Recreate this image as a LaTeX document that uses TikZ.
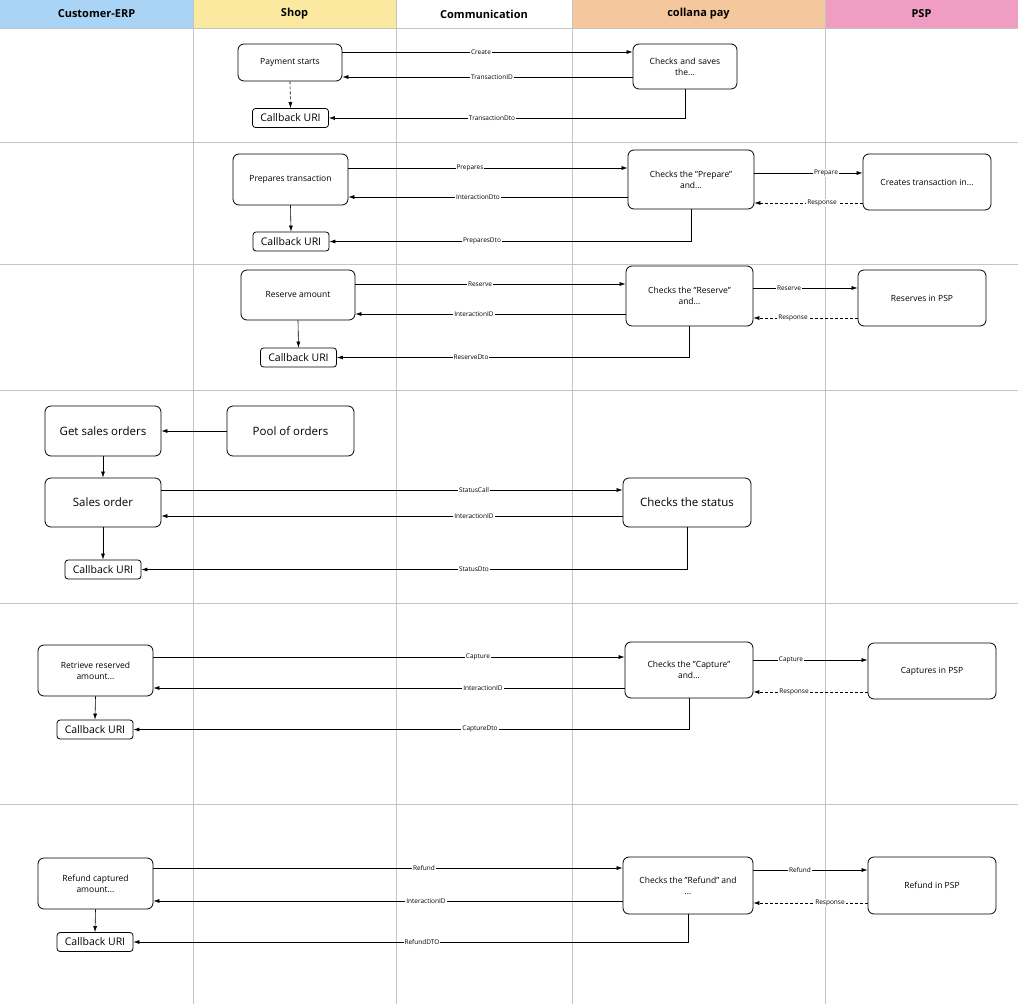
\documentclass[tikz,border=0pt]{standalone}
\usepackage{fontspec}
\setmainfont{Open Sans}
\usetikzlibrary{arrows.meta, calc}
\definecolor{erpblue}{HTML}{A9D4F5}
\definecolor{shopyellow}{HTML}{FCE9A0}
\definecolor{payorange}{HTML}{F4C79C}
\definecolor{psppink}{HTML}{F09DC4}
\definecolor{laneline}{HTML}{C4C4C4}
\newcommand{\qt}{\symbol{34}}
\tikzset{
  box/.style={draw, thick, rounded corners=6pt, align=center, inner sep=2pt, font=\fontsize{8.5}{11}\selectfont},
  bigbox/.style={box, font=\fontsize{11.5}{13}\selectfont},
  cbbox/.style={draw, thick, rounded corners=3pt, inner sep=1.5pt, minimum width=76pt, minimum height=19pt, font=\fontsize{10.5}{12}\selectfont},
  msg/.style={-{Latex[length=6pt,width=4pt]}, semithick},
  resp/.style={msg, densely dashed},
  lbl/.style={fill=white, inner sep=1pt, font=\fontsize{6.5}{7}\selectfont},
  head/.style={font=\bfseries\fontsize{11}{13}\selectfont}
}
\begin{document}
\begin{tikzpicture}[x=1pt, y=-1pt]
\useasboundingbox (0,0) rectangle (1018,1004);
% lanes
\fill[erpblue] (0,0) rectangle (193,28);
\fill[shopyellow] (193,0) rectangle (396,28);
\fill[payorange] (572,0) rectangle (825,28);
\fill[psppink] (825,0) rectangle (1018,28);
\node[head] at (96.5,14) {Customer-ERP};
\node[head] at (294.5,14) {Shop};
\node[head] at (484,14) {Communication};
\node[head] at (698.5,14) {collana pay};
\node[head] at (921.5,14) {PSP};
\foreach \x in {193,396,572,825}
  \draw[laneline] (\x,0) -- (\x,1004);
\foreach \y in {28,142,264,390,603,804}
  \draw[laneline] (0,\y) -- (1018,\y);

% row 1
\node[box, minimum width=104pt, minimum height=37pt] (pay) at (290,62.5) {Payment starts};
\node[box, minimum width=104pt, minimum height=45pt, text width=90pt] (save) at (685,66.5) {Checks and saves\\the...};
\node[cbbox] (cb1) at (290.5,118) {Callback URI};
\draw[msg] (pay.east|-0,52) -- (save.west|-0,52);
\draw[msg] (save.west|-0,77) -- (pay.east|-0,77);
\draw[msg] (save.south) |- (cb1.east);
\draw[resp] (pay.south) -- (cb1.north);
\node[lbl] at (481,52) {Create};
\node[lbl] at (492,77) {TransactionID};
\node[lbl] at (492,118) {TransactionDto};

% row 2
\node[box, minimum width=115pt, minimum height=51pt] (prep) at (290.5,179.5) {Prepares transaction};
\node[box, minimum width=126pt, minimum height=59pt] (chkprep) at (691,179.5) {Checks the \qt Prepare\qt\\and...};
\node[box, minimum width=128pt, minimum height=56pt] (pspprep) at (927,182) {Creates transaction in...};
\node[cbbox] (cb2) at (291,241.5) {Callback URI};
\draw[msg] (prep.east|-0,168) -- (chkprep.west|-0,168);
\draw[msg] (chkprep.west|-0,197) -- (prep.east|-0,197);
\draw[msg] (chkprep.south) |- (cb2.east);
\draw[msg] (prep.south) -- (cb2.north);
\draw[msg] (chkprep.east|-0,173) -- (pspprep.west|-0,173);
\draw[resp] (pspprep.west|-0,203) -- (chkprep.east|-0,203);
\node[lbl] at (470,168) {Prepares};
\node[lbl] at (478,197) {InteractionDto};
\node[lbl] at (482,241) {PreparesDto};
\node[lbl] at (826,173) {Prepare};
\node[lbl] at (822,203) {Response};

% row 3
\node[box, minimum width=114pt, minimum height=50pt] (res) at (298,295) {Reserve amount};
\node[box, minimum width=127pt, minimum height=60pt] (chkres) at (689.5,296) {Checks the \qt Reserve\qt\\and...};
\node[box, minimum width=128pt, minimum height=56pt] (pspres) at (922,298) {Reserves in PSP};
\node[cbbox] (cb3) at (298.5,357.5) {Callback URI};
\draw[msg] (res.east|-0,284) -- (chkres.west|-0,284);
\draw[msg] (chkres.west|-0,314) -- (res.east|-0,314);
\draw[msg] (chkres.south) |- (cb3.east);
\draw[msg] (res.south) -- (cb3.north);
\draw[msg] (chkres.east|-0,288) -- (pspres.west|-0,288);
\draw[resp] (pspres.west|-0,318) -- (chkres.east|-0,318);
\node[lbl] at (480,284) {Reserve};
\node[lbl] at (474,314) {InteractionID};
\node[lbl] at (471,357) {ReserveDto};
\node[lbl] at (789,288) {Reserve};
\node[lbl] at (793,318) {Response};

% row 4
\node[bigbox, minimum width=116pt, minimum height=50pt] (get) at (103,431) {Get sales orders};
\node[bigbox, minimum width=127pt, minimum height=50pt] (pool) at (290.5,431) {Pool of orders};
\node[bigbox, minimum width=116pt, minimum height=49pt] (so) at (103,502.5) {Sales order};
\node[bigbox, minimum width=128pt, minimum height=49pt] (chkstat) at (687,502.5) {Checks the status};
\node[cbbox] (cb4) at (103,569.5) {Callback URI};
\draw[msg] (pool.west) -- (get.east);
\draw[msg] (get.south) -- (so.north);
\draw[msg] (so.south) -- (cb4.north);
\draw[msg] (so.east|-0,490) -- (chkstat.west|-0,490);
\draw[msg] (chkstat.west|-0,516) -- (so.east|-0,516);
\draw[msg] (chkstat.south) |- (cb4.east);
\node[lbl] at (474,490) {StatusCall};
\node[lbl] at (474,516) {InteractionID};
\node[lbl] at (474,569) {StatusDto};

% row 5
\node[box, minimum width=115pt, minimum height=51pt] (ret) at (95.5,670.5) {Retrieve reserved\\amount...};
\node[box, minimum width=128pt, minimum height=56pt] (chkcap) at (689,670) {Checks the \qt Capture\qt\\and...};
\node[box, minimum width=128pt, minimum height=56pt] (pspcap) at (932,671) {Captures in PSP};
\node[cbbox] (cb5) at (95,729.5) {Callback URI};
\draw[msg] (ret.east|-0,657) -- (chkcap.west|-0,657);
\draw[msg] (chkcap.west|-0,688) -- (ret.east|-0,688);
\draw[msg] (chkcap.south) |- (cb5.east);
\draw[msg] (ret.south) -- (cb5.north);
\draw[msg] (chkcap.east|-0,660) -- (pspcap.west|-0,660);
\draw[resp] (pspcap.west|-0,692) -- (chkcap.east|-0,692);
\node[lbl] at (478,657) {Capture};
\node[lbl] at (483,688) {InteractionID};
\node[lbl] at (480,729) {CaptureDto};
\node[lbl] at (791,660) {Capture};
\node[lbl] at (794,692) {Response};

% row 6
\node[box, minimum width=115pt, minimum height=51pt] (ref) at (95.5,883.5) {Refund captured\\amount...};
\node[box, minimum width=130pt, minimum height=57pt] (chkref) at (688,885.5) {Checks the \qt Refund\qt{} and\\...};
\node[box, minimum width=128pt, minimum height=57pt] (pspref) at (932,885.5) {Refund in PSP};
\node[cbbox] (cb6) at (95,942) {Callback URI};
\draw[msg] (ref.east|-0,868) -- (chkref.west|-0,868);
\draw[msg] (chkref.west|-0,901) -- (ref.east|-0,901);
\draw[msg] (chkref.south) |- (cb6.east);
\draw[msg] (ref.south) -- (cb6.north);
\draw[msg] (chkref.east|-0,870) -- (pspref.west|-0,870);
\draw[resp] (pspref.west|-0,903) -- (chkref.east|-0,903);
\node[lbl] at (424,868) {Refund};
\node[lbl] at (426,901) {InteractionID};
\node[lbl] at (422,942) {RefundDTO};
\node[lbl] at (800,870) {Refund};
\node[lbl] at (830,903) {Response};
\end{tikzpicture}
\end{document}
